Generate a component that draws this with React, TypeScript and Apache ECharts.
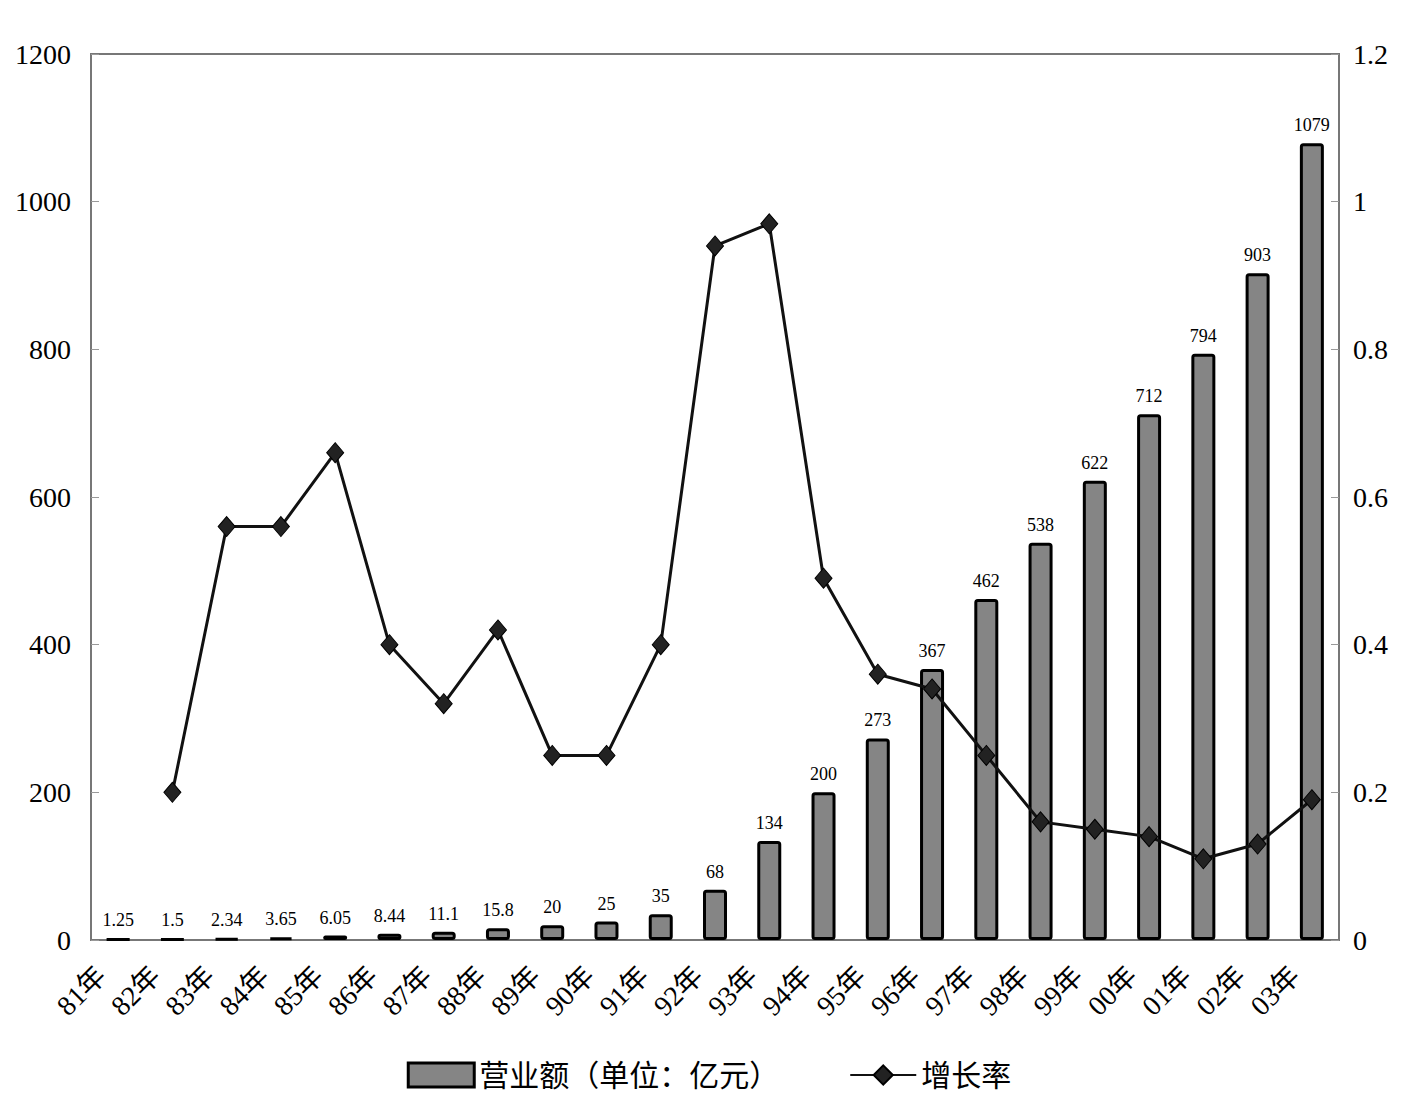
import React, { useEffect, useRef } from "react";
import * as echarts from "echarts";

const categories = ["81年","82年","83年","84年","85年","86年","87年","88年","89年","90年","91年","92年","93年","94年","95年","96年","97年","98年","99年","00年","01年","02年","03年"];
const revenue = [1.25,1.5,2.34,3.65,6.05,8.44,11.1,15.8,20,25,35,68,134,200,273,367,462,538,622,712,794,903,1079];
const growth = [null,0.2,0.56,0.56,0.66,0.4,0.32,0.42,0.25,0.25,0.4,0.94,0.97,0.49,0.36,0.34,0.25,0.16,0.15,0.14,0.11,0.13,0.19];
const revenueName = "营业额（单位：亿元）";
const growthName = "增长率";

const FONT = "'Liberation Serif', 'Noto Sans CJK SC', serif";

export default function App() {
  const ref = useRef<HTMLDivElement>(null);
  useEffect(() => {
    if (!ref.current) return;
    const chart = echarts.init(ref.current, undefined, { renderer: "svg" });
    chart.setOption({
      animation: false,
      backgroundColor: "#fff",
      textStyle: { fontFamily: FONT, color: "#000" },
      grid: {
        left: 83, right: 71, top: 46, bottom: 163,
        show: true, borderColor: "#777", borderWidth: 2,
      },
      legend: {
        bottom: 8,
        left: "center",
        itemGap: 70,
        itemWidth: 66,
        itemHeight: 24,
        textStyle: { fontSize: 30, fontFamily: FONT, color: "#000" },
        data: [
          { name: revenueName, icon: "rect", itemStyle: { color: "#858585", borderColor: "#000", borderWidth: 3 } },
          { name: growthName },
        ],
      },
      xAxis: {
        type: "category",
        data: categories,
        axisLine: { lineStyle: { color: "#777", width: 2 } },
        axisTick: { inside: true, length: 8, lineStyle: { color: "#999" } },
        axisLabel: { rotate: 45, fontSize: 28, color: "#000", fontFamily: FONT, margin: 14, interval: 0, padding: [0, 24, 0, 0] },
      },
      yAxis: [
        {
          type: "value", min: 0, max: 1200, interval: 200,
          splitLine: { show: false },
          axisLine: { show: true, lineStyle: { color: "#777", width: 2 } },
          axisTick: { show: true, inside: true, length: 8, lineStyle: { color: "#999" } },
          axisLabel: { fontSize: 28, color: "#000", fontFamily: FONT, margin: 20,
            formatter: (v: number) => String(v) },
        },
        {
          type: "value", min: 0, max: 1.2, interval: 0.2,
          splitLine: { show: false },
          axisLine: { show: true, lineStyle: { color: "#777", width: 2 } },
          axisTick: { show: true, inside: true, length: 8, lineStyle: { color: "#999" } },
          axisLabel: { fontSize: 28, color: "#000", fontFamily: FONT, margin: 14,
            formatter: (v: number) => String(Math.round(v * 10) / 10) },
        },
      ],
      series: [
        {
          name: revenueName,
          type: "bar",
          data: revenue,
          barWidth: 24,
          itemStyle: { color: "#858585", borderColor: "#000", borderWidth: 3, borderRadius: 2 },
          label: { show: true, position: "top", distance: 9, fontSize: 18, color: "#000", fontFamily: FONT },
        },
        {
          name: growthName,
          type: "line",
          yAxisIndex: 1,
          data: growth,
          symbol: "diamond",
          symbolSize: [17, 20],
          lineStyle: { color: "#111", width: 3 },
          itemStyle: { color: "#222", borderColor: "#000", borderWidth: 1 },
        },
      ],
    });
    return () => chart.dispose();
  }, []);
  return <div ref={ref} style={{ width: 1402, height: 1095 }} />;
}
